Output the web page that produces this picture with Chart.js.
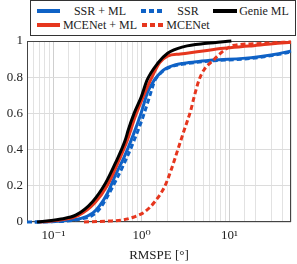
<!DOCTYPE html>
<html><head><meta charset="utf-8">
<script src="https://cdn.jsdelivr.net/npm/chart.js@4"></script>
<style>
html,body{margin:0;padding:0;background:#fff;}
#wrap{position:relative;width:297px;height:264px;overflow:hidden;}
#legend{position:absolute;left:30px;top:0;width:266px;height:36px;border:1px solid #333;box-sizing:border-box;background:#fff;font-family:'Liberation Serif','DejaVu Serif',serif;font-size:12px;color:#222;}
.lt{position:absolute;white-space:nowrap;transform:translate(-50%,-50%);line-height:1;}
.ls{position:absolute;}
</style></head><body>
<div id="wrap"><canvas id="c" width="297" height="264"></canvas><div id="legend"></div></div>
<script>
// ---- data (RMSPE in degrees, empirical CDF) ----
const seriesNames = ['SSR + ML', 'SSR', 'Genie ML', 'MCENet + ML', 'MCENet'];

const ssrMlX = [0.061, 0.123, 0.206, 0.280, 0.335, 0.412, 0.506, 0.637, 0.804, 0.987, 1.18, 1.40, 1.65, 1.85, 2.4, 3.04, 4.28, 6.58, 14.2, 21.6, 36.3, 50];
const ssrMlY = [0, 0.006, 0.02, 0.05, 0.09, 0.16, 0.26, 0.36, 0.48, 0.60, 0.72, 0.785, 0.825, 0.845, 0.868, 0.877, 0.886, 0.895, 0.904, 0.913, 0.93, 0.945];

const ssrX = [0.05, 0.117, 0.195, 0.273, 0.327, 0.409, 0.519, 0.637, 0.824, 1.04, 1.235, 1.415, 1.65, 1.85, 2.4, 3.04, 4.28, 6.58, 14.2, 21.6, 36.3, 50];
const ssrY = [0, 0.003, 0.015, 0.035, 0.066, 0.14, 0.235, 0.324, 0.45, 0.58, 0.692, 0.78, 0.822, 0.842, 0.864, 0.873, 0.882, 0.891, 0.90, 0.909, 0.926, 0.94];

const genieX = [0.065, 0.117, 0.181, 0.278, 0.391, 0.506, 0.654, 0.707, 0.824, 0.995, 1.16, 1.53, 1.98, 3.04, 5.53, 10.5];
const genieY = [0, 0.015, 0.039, 0.112, 0.215, 0.326, 0.453, 0.508, 0.60, 0.692, 0.785, 0.877, 0.932, 0.969, 0.987, 1.0];

const mceMlX = [0.070, 0.123, 0.190, 0.294, 0.412, 0.532, 0.689, 0.846, 1.04, 1.27, 1.61, 1.98, 2.76, 4.28, 8.57, 16.7, 31.0, 50];
const mceMlY = [0, 0.012, 0.035, 0.105, 0.205, 0.32, 0.45, 0.58, 0.69, 0.785, 0.88, 0.917, 0.928, 0.94, 0.96, 0.972, 0.985, 0.993];

const mceX = [0.222, 0.422, 0.621, 0.846, 1.094, 1.415, 1.83, 2.17, 2.58, 3.06, 3.64, 3.96, 4.51, 5.12, 6.58, 8.50, 11.0, 20.0, 50];
const mceY = [0, 0.005, 0.012, 0.03, 0.057, 0.112, 0.195, 0.287, 0.398, 0.508, 0.619, 0.69, 0.785, 0.84, 0.895, 0.945, 0.975, 0.985, 0.995];

const yTicks = [0, 0.2, 0.4, 0.6, 0.8, 1];
const xTickLabels = {'-1': '10\u207B\u00B9', '0': '10\u2070', '1': '10\u00B9'};

// ---- styles ----
const BLUE = '#0f62c6', RED = '#e6361e', BLACK = '#000000';
const DASH = [5, 3];
const pts = (xs, ys) => xs.map((x, i) => ({x: x, y: ys[i]}));

const datasets = [
  {label: seriesNames[0], data: pts(ssrMlX, ssrMlY), borderColor: BLUE, borderDash: [], order: 5},
  {label: seriesNames[1], data: pts(ssrX, ssrY), borderColor: BLUE, borderDash: DASH, order: 4},
  {label: seriesNames[2], data: pts(genieX, genieY), borderColor: BLACK, borderDash: [], order: 2},
  {label: seriesNames[3], data: pts(mceMlX, mceMlY), borderColor: RED, borderDash: [], order: 3},
  {label: seriesNames[4], data: pts(mceX, mceY), borderColor: RED, borderDash: DASH, order: 1}
].map(d => Object.assign(d, {borderWidth: 3, pointRadius: 0, fill: false, cubicInterpolationMode: 'monotone', clip: 4}));

// ---- legend (HTML) ----
const legendLayout = [
  {x0: 7, x1: 30, cx: 70, cy: 11},
  {x0: 111, x1: 133, cx: 158, cy: 11},
  {x0: 183, x1: 207, cx: 234, cy: 11},
  {x0: 7, x1: 30, cx: 70, cy: 25},
  {x0: 112, x1: 134, cx: 158, cy: 25}
];
const leg = document.getElementById('legend');
datasets.forEach((d, i) => {
  const L = legendLayout[i];
  const svgNS = 'http://www.w3.org/2000/svg';
  const svg = document.createElementNS(svgNS, 'svg');
  svg.setAttribute('class', 'ls');
  svg.setAttribute('width', L.x1 - L.x0);
  svg.setAttribute('height', 6);
  svg.style.left = (L.x0 - 1) + 'px';
  svg.style.top = (L.cy - 4) + 'px';
  const ln = document.createElementNS(svgNS, 'line');
  ln.setAttribute('x1', 0); ln.setAttribute('x2', L.x1 - L.x0);
  ln.setAttribute('y1', 3); ln.setAttribute('y2', 3);
  ln.setAttribute('stroke', d.borderColor);
  ln.setAttribute('stroke-width', 4);
  if (d.borderDash.length) ln.setAttribute('stroke-dasharray', d.borderDash.join(' '));
  svg.appendChild(ln);
  leg.appendChild(svg);
  const t = document.createElement('span');
  t.className = 'lt';
  t.textContent = d.label;
  t.style.left = (L.cx - 1) + 'px';
  t.style.top = (L.cy - 1) + 'px';
  leg.appendChild(t);
});

// ---- chart ----
const frame = {
  id: 'frame',
  beforeDatasetsDraw(chart) {
    const a = chart.chartArea, c = chart.ctx;
    c.save();
    c.strokeStyle = '#444';
    c.lineWidth = 1;
    c.strokeRect(Math.round(a.left) + 0.5, Math.round(a.top) + 0.5, Math.round(a.right - a.left) - 1, Math.round(a.bottom - a.top) - 1);
    c.restore();
  }
};

const isMajor = v => Math.abs(Math.log10(v) - Math.round(Math.log10(v))) < 1e-9;
const serif = "'Liberation Serif','DejaVu Serif',serif";

new Chart(document.getElementById('c'), {
  type: 'line',
  data: {datasets: datasets},
  plugins: [frame],
  options: {
    responsive: false,
    animation: false,
    devicePixelRatio: 1,
    layout: {padding: {top: 41, right: 1, left: 0, bottom: 0}},
    plugins: {legend: {display: false}, tooltip: {enabled: false}},
    scales: {
      x: {
        type: 'logarithmic', min: 0.05, max: 50,
        afterFit: s => { s.height = 42; },
        grid: {drawTicks: false, color: c => (c.tick && isMajor(c.tick.value)) ? '#cfcfcf' : '#e2e2e2'},
        border: {display: false},
        ticks: {
          autoSkip: false, maxRotation: 0, padding: 6, color: '#222',
          font: {family: serif, size: 13},
          callback: v => isMajor(v) ? (xTickLabels[String(Math.round(Math.log10(v)))] || '') : ''
        },
        title: {display: true, text: 'RMSPE [\u00B0]', color: '#222', font: {family: serif, size: 13}, padding: {top: 0, bottom: 1}}
      },
      y: {
        min: 0, max: 1,
        afterFit: s => { s.width = 27; },
        afterBuildTicks: s => { s.ticks = yTicks.map(v => ({value: v})); },
        grid: {drawTicks: false, color: '#dcdcdc'},
        border: {display: false},
        ticks: {
          padding: 4, color: '#222',
          font: {family: serif, size: 13},
          callback: v => (v === 0 || v === 1) ? String(v) : v.toFixed(1)
        }
      }
    }
  }
});
</script>
</body></html>
